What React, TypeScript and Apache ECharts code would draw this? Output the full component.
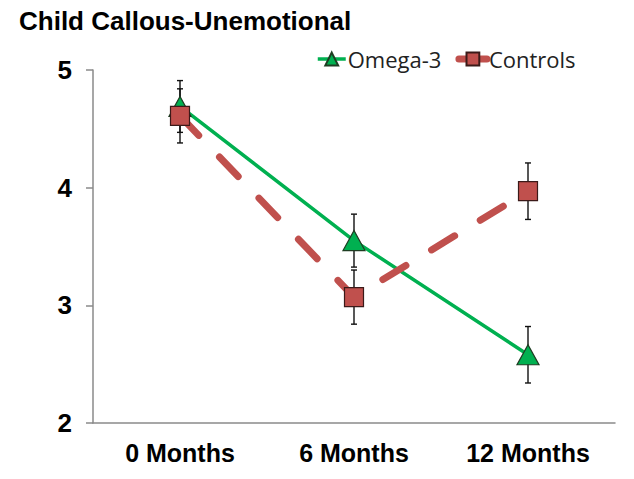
import React, { useEffect, useRef } from "react";
import * as echarts from "echarts";

const categories = ["0 Months", "6 Months", "12 Months"];
const omegaValues = [4.69, 3.55, 2.58];
const omegaErrors = [0.22, 0.225, 0.24];
const controlValues = [4.61, 3.07, 3.97];
const controlErrors = [0.23, 0.23, 0.24];
const yMin = 2;
const yMax = 5;
const yInterval = 1;

const GREEN = "#00B050";
const RED = "#C0504D";

function errorRender(params: any, api: any) {
  const x = api.value(0);
  const v = api.value(1);
  const e = api.value(2);
  const top = api.coord([x, v + e]);
  const bot = api.coord([x, v - e]);
  const w = 3;
  const style = { stroke: "#111", lineWidth: 1.4 };
  return {
    type: "group",
    children: [
      { type: "line", shape: { x1: top[0], y1: top[1], x2: bot[0], y2: bot[1] }, style },
      { type: "line", shape: { x1: top[0] - w, y1: top[1], x2: top[0] + w, y2: top[1] }, style },
      { type: "line", shape: { x1: bot[0] - w, y1: bot[1], x2: bot[0] + w, y2: bot[1] }, style },
    ],
  };
}

export default function App() {
  const ref = useRef<HTMLDivElement>(null);
  useEffect(() => {
    if (!ref.current) return;
    const chart = echarts.init(ref.current, null, { renderer: "svg" });
    chart.setOption({
      animation: false,
      backgroundColor: "#fff",
      title: {
        text: "Child Callous-Unemotional",
        left: 14,
        top: 3,
        textStyle: {
          fontFamily: "Liberation Sans",
          fontSize: 26,
          fontWeight: "bold",
          color: "#000",
          lineHeight: 26,
        },
      },
      legend: {
        left: 311,
        top: 43,
        itemWidth: 28,
        itemHeight: 16,
        itemGap: 14,
        data: [
          { name: "Omega-3", lineStyle: { width: 3.5 } },
          { name: "Controls", lineStyle: { width: 7, type: "solid", cap: "round" } },
        ],
        textStyle: {
          fontFamily: "Open Sans",
          fontSize: 22,
          color: "#222",
          padding: [0, 0, 0, -3],
        },
      },
      grid: { left: 93, right: 19, top: 70, bottom: 56, containLabel: false },
      xAxis: {
        type: "category",
        data: categories,
        boundaryGap: true,
        axisLine: { show: true, lineStyle: { color: "#8a8a8a", width: 1.5 } },
        axisTick: { show: false },
        axisLabel: {
          margin: 17,
          fontFamily: "Liberation Sans",
          fontSize: 25,
          fontWeight: "bold",
          color: "#000",
          lineHeight: 25,
        },
      },
      yAxis: {
        type: "value",
        min: yMin,
        max: yMax,
        interval: yInterval,
        splitLine: { show: false },
        axisLine: { show: true, lineStyle: { color: "#8a8a8a", width: 1.5 } },
        axisTick: { show: true, length: 7, lineStyle: { color: "#8a8a8a", width: 1.5 } },
        axisLabel: {
          margin: 21,
          fontFamily: "Liberation Sans",
          fontSize: 26,
          fontWeight: "bold",
          color: "#000",
        },
      },
      series: [
        {
          type: "custom",
          name: "omegaErr",
          z: 1,
          renderItem: errorRender,
          encode: { x: 0, y: 1 },
          data: omegaValues.map((v, i) => [i, v, omegaErrors[i]]),
        },
        {
          type: "custom",
          name: "controlErr",
          z: 1,
          renderItem: errorRender,
          encode: { x: 0, y: 1 },
          data: controlValues.map((v, i) => [i, v, controlErrors[i]]),
        },
        {
          type: "line",
          name: "Omega-3",
          z: 2,
          data: omegaValues,
          symbol: "triangle",
          symbolSize: [22, 20],
          lineStyle: { color: GREEN, width: 3.5 },
          itemStyle: { color: GREEN, borderColor: "#1e3d22", borderWidth: 1.2 },
        },
        {
          type: "line",
          name: "Controls",
          z: 3,
          data: controlValues,
          symbol: "rect",
          symbolSize: 19,
          lineStyle: { color: RED, width: 7, type: [27, 30], cap: "round" },
          itemStyle: { color: RED, borderColor: "#3b1a19", borderWidth: 1.2 },
        },
      ],
    });
    return () => chart.dispose();
  }, []);
  return (
    <div
      ref={ref}
      style={{ position: "fixed", left: 0, top: 0, width: 634, height: 479 }}
    />
  );
}
